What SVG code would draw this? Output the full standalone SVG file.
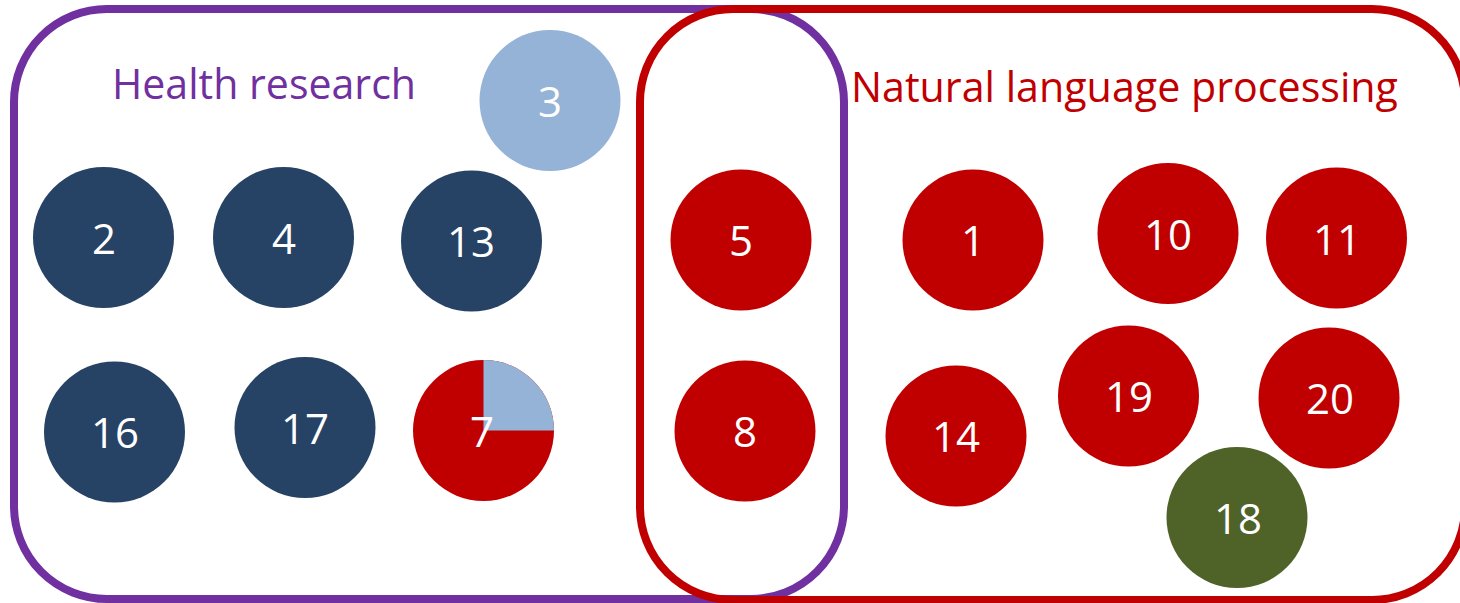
<svg xmlns="http://www.w3.org/2000/svg" width="1460" height="603" viewBox="0 0 1460 603">
  <style>
    .frame { fill: none; stroke-width: 8; }
    .hr { stroke: #7030A0; }
    .nlp { stroke: #C00000; }
    .title { font-family: "Open Sans", "Liberation Sans", sans-serif; font-size: 42px; }
    .num { font-family: "Open Sans", "Liberation Sans", sans-serif; font-size: 42px; fill: #FFFFFF; text-anchor: middle; }
    .navy { fill: #264264; }
    .red { fill: #C00000; }
    .lblue { fill: #95B3D7; }
    .olive { fill: #4F6228; }
  </style>

  <rect width="1460" height="603" fill="#FFFFFF"/>

  <!-- category frames -->
  <g id="frame-health">
    <rect class="frame hr" x="14" y="9" width="830" height="590" rx="93" ry="93"/>
    <text class="title" x="112" y="99" fill="#7030A0" textLength="304" lengthAdjust="spacingAndGlyphs">Health research</text>
  </g>
  <g id="frame-nlp">
    <rect class="frame nlp" x="640" y="9" width="825" height="591" rx="93" ry="93"/>
    <text class="title" x="851" y="102" fill="#C00000" textLength="547" lengthAdjust="spacingAndGlyphs">Natural language processing</text>
  </g>

  <!-- health research items -->
  <g id="node-3"><circle class="lblue" cx="550" cy="100.5" r="70.5"/><text class="num" x="550" y="117">3</text></g>
  <g id="node-2"><circle class="navy" cx="103.5" cy="237.5" r="70.5"/><text class="num" x="104" y="254">2</text></g>
  <g id="node-4"><circle class="navy" cx="283.5" cy="237.5" r="70.5"/><text class="num" x="284" y="254">4</text></g>
  <g id="node-13"><circle class="navy" cx="471.5" cy="241" r="70.5"/><text class="num" x="471" y="257">13</text></g>
  <g id="node-16"><circle class="navy" cx="114.5" cy="432" r="70.5"/><text class="num" x="115" y="448">16</text></g>
  <g id="node-17"><circle class="navy" cx="305" cy="427.5" r="70.5"/><text class="num" x="305" y="444">17</text></g>
  <g id="node-7">
    <circle class="red" cx="483.5" cy="430.5" r="70.5"/>
    <path class="lblue" d="M483.5 430.5 L483.5 360 A70.5 70.5 0 0 1 554 430.5 Z"/>
    <text class="num" x="482" y="447">7</text>
  </g>

  <!-- shared items -->
  <g id="node-5"><circle class="red" cx="741" cy="240" r="70.5"/><text class="num" x="741" y="256">5</text></g>
  <g id="node-8"><circle class="red" cx="745" cy="431" r="70.5"/><text class="num" x="745" y="447">8</text></g>

  <!-- natural language processing items -->
  <g id="node-1"><circle class="red" cx="973" cy="240" r="70.5"/><text class="num" x="973" y="256">1</text></g>
  <g id="node-10"><circle class="red" cx="1168" cy="233.5" r="70.5"/><text class="num" x="1168" y="250">10</text></g>
  <g id="node-11"><circle class="red" cx="1336.5" cy="238" r="70.5"/><text class="num" x="1337" y="255">11</text></g>
  <g id="node-14"><circle class="red" cx="956" cy="436" r="70.5"/><text class="num" x="956" y="452">14</text></g>
  <g id="node-19"><circle class="red" cx="1128.5" cy="396" r="70.5"/><text class="num" x="1129" y="412">19</text></g>
  <g id="node-20"><circle class="red" cx="1329" cy="398" r="70.5"/><text class="num" x="1330" y="414">20</text></g>
  <g id="node-18"><circle class="olive" cx="1237" cy="517.5" r="70.5"/><text class="num" x="1238" y="534">18</text></g>
</svg>
